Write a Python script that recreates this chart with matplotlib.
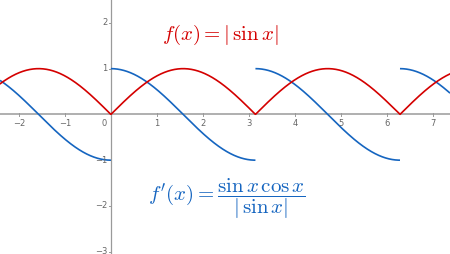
import numpy as np
import matplotlib
matplotlib.use('Agg')
import matplotlib.pyplot as plt

plt.rcParams['mathtext.fontset'] = 'cm'

# view window
x_lo, x_hi = -2.41, 7.37
y_lo, y_hi = -3.05, 2.50

x_ticks = [-2, -1, 1, 2, 3, 4, 5, 6, 7]
y_ticks = [-3, -2, -1, 1, 2]

red = '#d40000'
blue = '#1565c0'
axis_gray = '#9a9a9a'
label_gray = '#666666'

# the plotted functions: f(x) = |sin x| and f'(x) = sin x cos x / |sin x|
breaks = np.pi * np.arange(-1, 3)

fig = plt.figure(figsize=(4.5, 2.54), dpi=100)
ax = fig.add_axes([0, 0, 1, 1])
ax.set_xlim(x_lo, x_hi)
ax.set_ylim(y_lo, y_hi)
ax.axis('off')

# axes through the origin
ax.axhline(0, color=axis_gray, lw=1.1, zorder=1)
ax.axvline(0, color=axis_gray, lw=0.9, zorder=1)

for t in x_ticks:
    ax.plot([t, t], [-0.04, 0.04], color=axis_gray, lw=0.7, zorder=1)
    ax.text(t, -0.2, str(t).replace('-', '\u2212'), ha='center', va='center',
            fontsize=6, color=label_gray)
for t in y_ticks:
    ax.plot([-0.05, 0], [t, t], color=axis_gray, lw=0.7, zorder=1)
    ax.text(-0.08, t, str(t).replace('-', '\u2212'), ha='right', va='center',
            fontsize=6, color=label_gray)
ax.text(-0.08, -0.2, '0', ha='right', va='center', fontsize=6, color=label_gray)

# red curve
xs = np.linspace(x_lo, x_hi, 1200)
ax.plot(xs, np.abs(np.sin(xs)), color=red, lw=1.2, zorder=3)

# blue curve, one piece per interval between multiples of pi
for a in breaks:
    left, right = max(a, x_lo), min(a + np.pi, x_hi)
    seg = np.linspace(left + 1e-6, right - 1e-6, 400)
    s = np.sin(seg)
    ax.plot(seg, s * np.cos(seg) / np.abs(s), color=blue, lw=1.2, zorder=2,
            solid_capstyle='butt')

ax.text(2.37, 1.73, r'$f(x) = |\,\sin x|$', color=red,
        fontsize=15, ha='center', va='center')
ax.text(2.52, -1.84, r"$f'(x) = \dfrac{\sin x\,\cos x}{|\,\sin x|}$", color=blue,
        fontsize=15, ha='center', va='center')

fig.savefig('out.png', dpi=100)
